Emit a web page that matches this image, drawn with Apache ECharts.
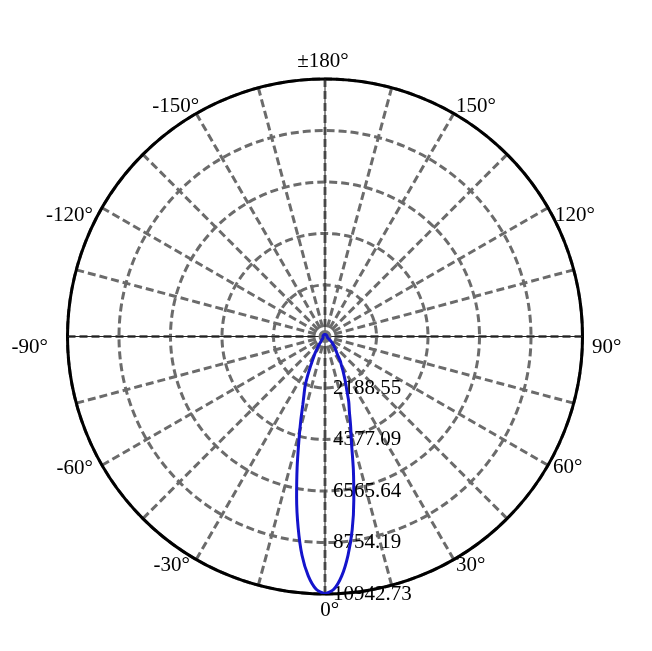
<!DOCTYPE html>
<html>
<head>
<meta charset="utf-8">
<script src="https://cdn.jsdelivr.net/npm/echarts@6/dist/echarts.min.js"></script>
<style>
html,body{margin:0;padding:0;background:#fff;}
#chart{width:652px;height:651px;}
</style>
</head>
<body>
<div id="chart"></div>
<script>
// Luminous intensity (cd) vs angle (deg); positive = right side, negative = left side
var anglesPos = [0, 2, 4, 6, 8, 10, 12, 14, 16, 18, 20, 22, 24, 26, 28, 30, 32, 35, 38, 40, 45, 50, 55, 60, 70, 80, 90, 100, 120, 140, 160, 180];
var valuesPos = [10942.73, 10750, 10200, 9350, 8300, 7050, 5800, 4650, 3950, 3350, 2950, 2480, 2150, 1850, 1600, 1380, 1220, 900, 760, 660, 500, 370, 250, 150, 110, 95, 90, 88, 85, 85, 85, 85];
var anglesNeg = [-2, -4, -6, -8, -10, -12, -14, -16, -18, -20, -22, -24, -26, -28, -30, -32, -35, -38, -40, -45, -50, -60, -70, -80, -90, -100, -120, -140, -160];
var valuesNeg = [10750, 10200, 9350, 8200, 6950, 5700, 4600, 3750, 3050, 2600, 2250, 1800, 1400, 1100, 900, 700, 500, 300, 270, 180, 120, 95, 88, 85, 85, 85, 85, 85, 85];

var radiusMax = 10942.73;
var radiusTickLabels = ['', '2188.55', '4377.09', '6565.64', '8754.19', '10942.73'];
var angleTickValues = [0, 30, 60, 90, 120, 150, 180, 210, 240, 270, 300, 330];
var angleTickLabels = ['0°', '30°', '60°', '90°', '120°', '150°', '±180°', '-150°', '-120°', '-90°', '-60°', '-30°'];

// label placement tweaks (padding [top, right, bottom, left]) per angle label
var labelPads = [
  [21, 0, 0, 9.4], [0, 0, 2.6, 5.25], [0, 0, 14.5, 10.2], [21, 0, 0, 15.5],
  [32.5, 0, 0, 12.2], [0, 0, 1.4, 5.25], [0, 4, 23, 0], [0, 0, 1.4, 0],
  [32.5, 14.2, 0, 0], [21, 25.5, 0, 0], [0, 14.2, 12.5, 0], [0, 9.25, 2.6, 0]
];

var fontFam = '"Liberation Serif", "Times New Roman", serif';
var FS = 21;
var rich = {};
for (var q = 0; q < labelPads.length; q++) {
  rich['l' + q] = { fontSize: FS, fontFamily: fontFam, color: '#000', lineHeight: 24, padding: labelPads[q] };
}

// build closed curve ordered 0..360
var pts = [];
for (var i = 0; i < anglesPos.length; i++) pts.push([valuesPos[i], anglesPos[i]]);
for (var j = anglesNeg.length - 1; j >= 0; j--) pts.push([valuesNeg[j], 360 + anglesNeg[j]]);
pts.push([valuesPos[0], 360]);

var chart = echarts.init(document.getElementById('chart'));
chart.setOption({
  animation: false,
  backgroundColor: '#fff',
  polar: { center: [325, 336.5], radius: 257.5 },
  angleAxis: {
    type: 'value', min: 0, max: 360, interval: 15,
    startAngle: 270, clockwise: false,
    axisLine: { show: true, lineStyle: { color: '#000', width: 3 } },
    axisTick: { show: false },
    splitLine: { show: true, lineStyle: { color: '#6b6b6b', width: 3, type: [8, 4] } },
    axisLabel: {
      show: true, margin: -6, color: '#000', fontSize: FS, fontFamily: fontFam,
      rich: rich,
      formatter: function (v) {
        var k = angleTickValues.indexOf(Math.round(v));
        return k >= 0 ? '{l' + k + '|' + angleTickLabels[k] + '}' : '';
      }
    }
  },
  radiusAxis: {
    type: 'value', min: 0, max: radiusMax, interval: radiusMax / 5,
    axisLine: { show: false },
    axisTick: { show: false },
    splitLine: { show: true, lineStyle: { color: '#6b6b6b', width: 3, type: [8, 4] } },
    axisLabel: {
      show: true, color: '#000', fontSize: FS, fontFamily: fontFam, margin: 8,
      formatter: function (v, idx) { return radiusTickLabels[idx] || ''; }
    }
  },
  series: [
    {
      type: 'line', coordinateSystem: 'polar', silent: true, showSymbol: false, symbol: 'none',
      lineStyle: { color: '#222', width: 1 },
      data: [[radiusMax, 0], [0, 0], [radiusMax, 180]], z: 1
    },
    {
      type: 'line', coordinateSystem: 'polar', silent: true, showSymbol: false, symbol: 'none',
      lineStyle: { color: '#222', width: 1 },
      data: [[radiusMax, 90], [0, 90], [radiusMax, 270]], z: 1
    },
    {
      type: 'scatter', coordinateSystem: 'polar', silent: true, clip: false,
      symbol: 'circle', symbolSize: 13, itemStyle: { color: '#737373', opacity: 1 },
      data: [[0, 0]], z: 4
    },
    {
      type: 'line', coordinateSystem: 'polar', showSymbol: false, symbol: 'none',
      smooth: 0.3,
      lineStyle: { color: '#1414cc', width: 3 },
      data: pts, z: 5
    }
  ]
});
</script>
</body>
</html>
